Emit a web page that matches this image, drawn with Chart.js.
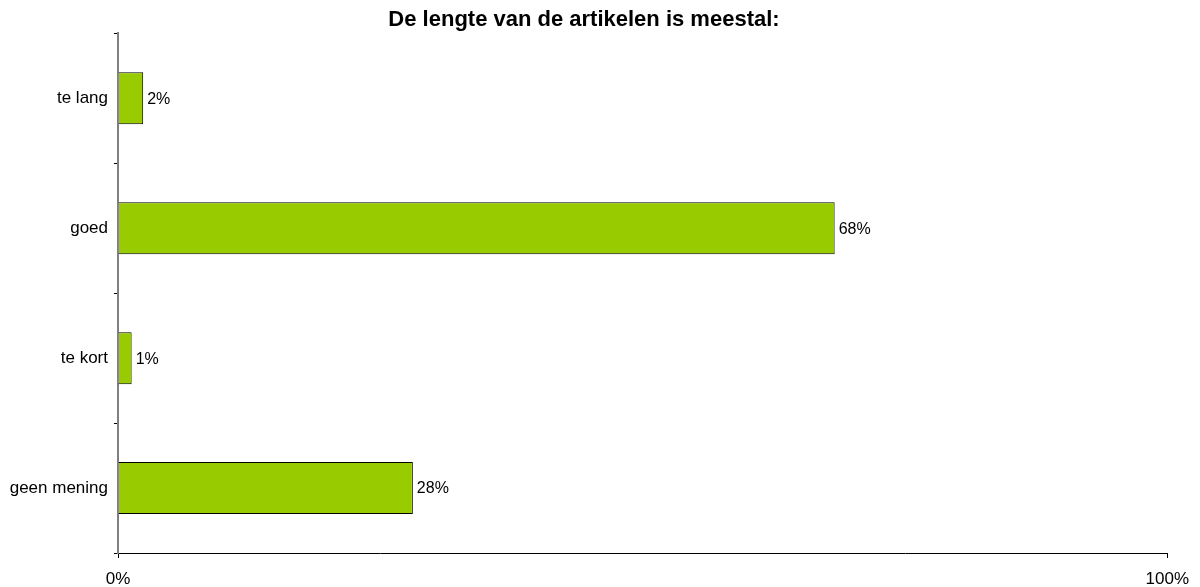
<!DOCTYPE html>
<html>
<head>
<meta charset="utf-8">
<script src="https://cdn.jsdelivr.net/npm/chart.js@4/dist/chart.umd.min.js"></script>
<style>
  html, body { margin: 0; padding: 0; background: #fff; }
  #wrap { width: 1200px; height: 587px; position: relative; }
</style>
</head>
<body>
<div id="wrap"><canvas id="lengthChart"></canvas></div>
<script>
const categories = ["te lang", "goed", "te kort", "geen mening"];
const shares = [2.4, 68.3, 1.3, 28.1];
const axisTicks = [0, 100];

const fontFamily = "'Liberation Sans', Arial, sans-serif";

// writes the rounded percentage just past the end of each bar
const barLabels = {
  id: "barLabels",
  afterDatasetsDraw(chart) {
    const ctx = chart.ctx;
    const meta = chart.getDatasetMeta(0);
    ctx.save();
    ctx.font = "16px " + fontFamily;
    ctx.fillStyle = "#000";
    ctx.textAlign = "left";
    ctx.textBaseline = "middle";
    meta.data.forEach((bar, i) => {
      ctx.fillText(Math.round(shares[i]) + "%", bar.x + 4, bar.y + 1);
    });
    ctx.restore();
  }
};

document.addEventListener("DOMContentLoaded", () => {
  const canvas = document.getElementById("lengthChart");

  new Chart(canvas, {
    type: "bar",
    data: {
      labels: categories,
      datasets: [{
        data: shares,
        backgroundColor: "#99cc00",
        borderColor: "#000",
        borderWidth: 1,
        barPercentage: 0.4,
        categoryPercentage: 1
      }]
    },
    options: {
      indexAxis: "y",
      responsive: true,
      maintainAspectRatio: false,
      animation: false,
      layout: { padding: { left: 0, right: 32, top: 0, bottom: 0 } },
      plugins: {
        legend: { display: false },
        tooltip: { enabled: false },
        title: {
          display: true,
          text: "De lengte van de artikelen is meestal:",
          color: "#000",
          font: { family: fontFamily, size: 22, weight: "bold" },
          padding: { top: 7, bottom: 0 }
        }
      },
      scales: {
        x: {
          min: 0,
          max: 100,
          afterBuildTicks: (scale) => {
            scale.ticks = axisTicks.map((v) => ({ value: v }));
          },
          afterFit: (scale) => { scale.height = 34; },
          ticks: {
            color: "#000",
            font: { family: fontFamily, size: 17 },
            padding: 11,
            maxRotation: 0,
            autoSkip: false,
            callback: (v) => v + "%"
          },
          grid: { drawOnChartArea: false, color: "#000", tickLength: 5 },
          border: { color: "#000", width: 1 }
        },
        y: {
          afterFit: (scale) => { scale.width = 118; },
          ticks: {
            color: "#000",
            font: { family: fontFamily, size: 17 },
            padding: 6
          },
          grid: { drawOnChartArea: false, offset: true, color: "#000", tickLength: 4 },
          border: { color: "#808080", width: 2 }
        }
      }
    },
    plugins: [barLabels]
  });
});
</script>
</body>
</html>
